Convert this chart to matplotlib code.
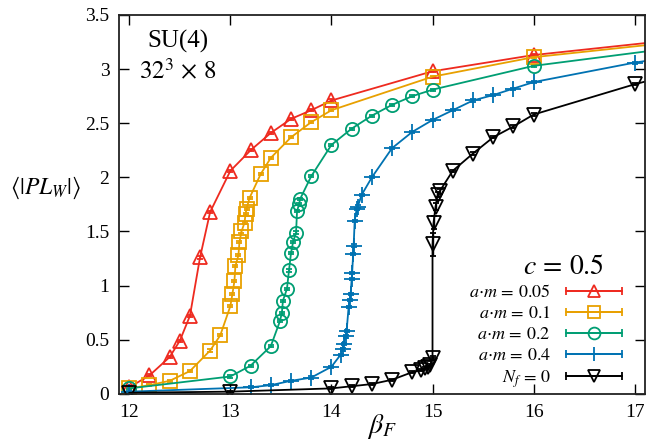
import numpy as np
import matplotlib
matplotlib.use('Agg')
import matplotlib.pyplot as plt
from matplotlib.legend_handler import HandlerErrorbar

plt.rcParams['font.family'] = ['serif']
plt.rcParams['font.serif'] = ['Liberation Serif', 'DejaVu Serif']
plt.rcParams['mathtext.fontset'] = 'stix'

# data
red_x = [12.0, 12.2, 12.4, 12.5, 12.6, 12.7, 12.8, 13.0, 13.2, 13.4, 13.6, 13.8, 14.0, 15.0, 16.0, 18.0]
red_y = [0.06, 0.17, 0.34, 0.49, 0.72, 1.26, 1.68, 2.06, 2.25, 2.41, 2.54, 2.62, 2.71, 2.98, 3.13, 3.33]

yel_x = [12.0, 12.2, 12.4, 12.6, 12.8, 12.9, 13.0, 13.02, 13.04, 13.05, 13.08, 13.09, 13.11, 13.14,
         13.15, 13.16, 13.19, 13.3, 13.4, 13.6, 13.8, 14.0, 15.0, 16.0, 18.0]
yel_y = [0.05, 0.08, 0.12, 0.21, 0.40, 0.54, 0.81, 0.92, 1.04, 1.18, 1.28, 1.40, 1.50, 1.58,
         1.66, 1.71, 1.81, 2.03, 2.18, 2.37, 2.51, 2.62, 2.93, 3.11, 3.31]

grn_x = [12.0, 13.0, 13.2, 13.4, 13.49, 13.51, 13.52, 13.56, 13.58, 13.6, 13.62, 13.65, 13.66, 13.68,
         13.69, 13.8, 14.0, 14.2, 14.4, 14.6, 14.8, 15.0, 16.0, 18.0]
grn_y = [0.05, 0.16, 0.26, 0.44, 0.67, 0.75, 0.86, 0.97, 1.14, 1.30, 1.40, 1.49, 1.69, 1.75,
         1.80, 2.01, 2.30, 2.45, 2.57, 2.67, 2.75, 2.81, 3.03, 3.27]

blu_x = [12.0, 13.2, 13.4, 13.6, 13.8, 14.0, 14.09, 14.11, 14.12, 14.14, 14.15, 14.17, 14.18, 14.19,
         14.2, 14.205, 14.215, 14.22, 14.23, 14.25, 14.26, 14.3, 14.4, 14.6, 14.8, 15.0, 15.2, 15.4,
         15.6, 15.8, 16.0, 17.0, 18.0]
blu_y = [0.02, 0.06, 0.08, 0.12, 0.15, 0.25, 0.36, 0.41, 0.46, 0.53, 0.58, 0.80, 0.87, 0.92,
         1.06, 1.12, 1.29, 1.37, 1.60, 1.71, 1.73, 1.84, 2.00, 2.27, 2.42, 2.53, 2.62, 2.71,
         2.76, 2.82, 2.88, 3.06, 3.20]

blk_x = [12.0, 13.0, 14.0, 14.2, 14.4, 14.6, 14.8, 14.89, 14.93, 14.96, 14.98, 15.0, 15.0, 15.01,
         15.03, 15.05, 15.07, 15.2, 15.4, 15.6, 15.8, 16.0, 17.0, 18.0]
blk_y = [0.01, 0.02, 0.05, 0.07, 0.09, 0.13, 0.20, 0.22, 0.24, 0.25, 0.27, 0.33, 1.38, 1.58,
         1.73, 1.84, 1.87, 2.06, 2.22, 2.37, 2.47, 2.58, 2.86, 3.10]
blk_err = [0.01, 0.01, 0.01, 0.01, 0.01, 0.01, 0.01, 0.01, 0.01, 0.01, 0.01, 0.02, 0.11, 0.06,
           0.03, 0.02, 0.02, 0.01, 0.01, 0.01, 0.01, 0.01, 0.01, 0.01]

series = [
    (red_x, red_y, 0.01, '#ee2a1f', '^', r'$a{\cdot}m\,=\,0.05$'),
    (yel_x, yel_y, 0.01, '#e8a000', 's', r'$a{\cdot}m\,=\,0.1$'),
    (grn_x, grn_y, 0.01, '#009e73', 'o', r'$a{\cdot}m\,=\,0.2$'),
    (blu_x, blu_y, 0.01, '#0072b2', '+', r'$a{\cdot}m\,=\,0.4$'),
    (blk_x, blk_y, blk_err, '#000000', 'v', r'$N_f\,=\,0$'),
]

fig = plt.figure(figsize=(6.62, 4.41), dpi=100)
ax = fig.add_axes([0.180, 0.107, 0.794, 0.859])

handles = []
labels = []
for x, y, e, c, m, lab in series:
    ms = 11 if m == '+' else 9.5
    ax.errorbar(x, y, yerr=e, color=c, marker=m, ms=ms, mfc='none', mew=1.3,
                lw=1.3, elinewidth=1.0, capsize=2, clip_on=True)
    # proxy for the gnuplot style key sample
    h = ax.errorbar([np.nan], [np.nan], xerr=[0.0], color=c, marker=m, ms=ms - 1, mfc='none',
                    mew=1.3, lw=1.3, elinewidth=1.3, capsize=3)
    handles.append(h)
    labels.append(lab)

ax.set_xlim(11.9, 17.1)
ax.set_ylim(0, 3.5)
ax.set_xticks([12, 13, 14, 15, 16, 17])
ax.set_yticks([0, 0.5, 1, 1.5, 2, 2.5, 3, 3.5])
ax.set_yticklabels(['0', '0.5', '1', '1.5', '2', '2.5', '3', '3.5'])
ax.tick_params(direction='in', top=True, right=True, length=7, width=1, labelsize=14, pad=7)
for s in ax.spines.values():
    s.set_linewidth(1.3)
    s.set_color('#222222')

ax.set_xlabel(r'$\beta_F$', fontsize=20, labelpad=-6)
ax.set_ylabel(r'$\langle|PL_W|\rangle$', fontsize=17, rotation=0, labelpad=0)
ax.yaxis.set_label_coords(-0.14, 0.51)

ax.text(0.112, 0.929, 'SU(4)', transform=ax.transAxes, fontsize=18, ha='center', va='center')
ax.text(0.112, 0.85, r'$32^3\,\times\,8$', transform=ax.transAxes, fontsize=18, ha='center', va='center')
ax.text(0.845, 0.333, r'$c\,=\,0.5$', transform=ax.transAxes, fontsize=20, ha='center', va='center')

hm = {h: HandlerErrorbar(xerr_size=1.55) for h in handles}
leg = ax.legend(handles, labels, loc='lower right', bbox_to_anchor=(0.977, -0.018),
                markerfirst=False, frameon=False, fontsize=13, handlelength=3.1,
                handletextpad=0.85, labelspacing=0.22, borderaxespad=0.2, handler_map=hm)

fig.savefig('out.png', dpi=100)
